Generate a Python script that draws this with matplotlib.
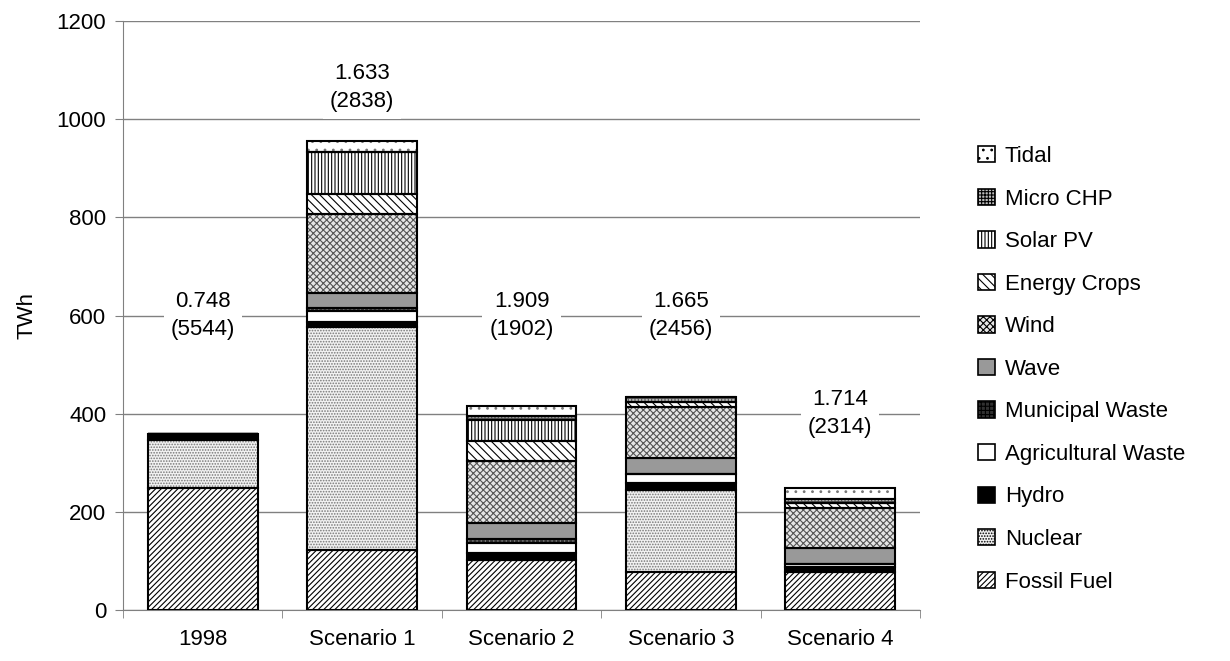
import matplotlib
matplotlib.use("Agg")
import matplotlib.pyplot as plt
import numpy as np
from matplotlib.patches import Patch

plt.rcParams['font.family'] = ['Liberation Sans', 'DejaVu Sans']
plt.rcParams['hatch.linewidth'] = 0.8

categories = ["1998", "Scenario 1", "Scenario 2", "Scenario 3", "Scenario 4"]
sources = ["Fossil Fuel", "Nuclear", "Hydro", "Agricultural Waste", "Municipal Waste",
           "Wave", "Wind", "Energy Crops", "Solar PV", "Micro CHP", "Tidal"]

fossil    = [249, 122, 102, 78, 78]
nuclear   = [98, 455, 0, 166, 0]
hydro     = [12, 10, 14, 14, 10]
agri      = [0, 22, 21, 20, 6]
municipal = [0, 7, 7, 0, 0]
wave      = [0, 30, 34, 32, 32]
wind      = [0, 161, 125, 104, 81]
crops     = [0, 40, 41, 10, 10]
solar     = [0, 87, 44, 0, 0]
microchp  = [0, 0, 8, 10, 10]
tidal     = [0, 22, 19, 0, 22]

label_top = ["0.748", "1.633", "1.909", "1.665", "1.714"]
label_bot = ["(5544)", "(2838)", "(1902)", "(2456)", "(2314)"]
label_y = [600, 1065, 600, 600, 400]

series = [fossil, nuclear, hydro, agri, municipal, wave, wind, crops, solar, microchp, tidal]
# face colour, hatch, hatch colour
styles = [
    ("white", "//////", "black"),
    ("#f2f2f2", "......", "#777777"),
    ("black", None, "black"),
    ("white", None, "black"),
    ("#303030", "++++", "#808080"),
    ("#999999", None, "black"),
    ("#e6e6e6", "xxxxx", "#555555"),
    ("white", "\\\\\\\\", "black"),
    ("white", "|||||", "black"),
    ("#bbbbbb", "+++++", "#555555"),
    ("white", "..", "#777777"),
]

fig = plt.figure(figsize=(12.3, 6.61), dpi=100)
ax = fig.add_axes([123/1230, 1 - 610/661, (920-123)/1230, (610-21)/661])

FS = 16
x = np.arange(len(categories))
bottom = np.zeros(len(categories))
handles = []
for name, vals, (fc, hatch, hc) in zip(sources, series, styles):
    vals = np.array(vals, dtype=float)
    ax.bar(x, vals, width=0.69, bottom=bottom, facecolor=fc,
           hatch=hatch, edgecolor=hc, linewidth=0, zorder=3)
    ax.bar(x, vals, width=0.69, bottom=bottom, fill=False,
           edgecolor="black", linewidth=1.5, zorder=4)
    handles.append(Patch(facecolor=fc, hatch=hatch, edgecolor="black", linewidth=1.2))
    bottom += vals

ax.set_ylim(0, 1200)
ax.set_xlim(-0.5, len(categories) - 0.5)
ax.set_yticks(range(0, 1201, 200))
ax.yaxis.grid(True, color="#808080", linewidth=1.0, zorder=0)
ax.set_axisbelow(True)
ax.set_xticks(x)
ax.set_xticklabels(categories, fontsize=FS)
ax.set_xticks(np.arange(-0.5, len(categories), 1.0), minor=True)
ax.tick_params(axis="x", which="major", length=0, pad=14)
ax.tick_params(axis="x", which="minor", length=6, color="#808080", direction="out")
ax.tick_params(axis="y", labelsize=FS, length=6, color="#808080", direction="out", pad=6)
for s in ["top", "right"]:
    ax.spines[s].set_visible(False)
ax.spines["left"].set_color("#808080")
ax.spines["bottom"].set_color("#808080")
ax.set_ylabel("TWh", fontsize=FS, labelpad=14)

for xi, t, b, y in zip(x, label_top, label_bot, label_y):
    ax.text(xi, y, t + "\n" + b, ha="center", va="center", fontsize=FS,
            linespacing=1.45, zorder=5,
            bbox=dict(facecolor="white", edgecolor="none", pad=5))

leg = fig.legend(handles[::-1], sources[::-1], loc="upper left",
                 bbox_to_anchor=(958/1230, 1 - 126/661), frameon=False,
                 fontsize=FS, handlelength=0.75, handleheight=0.75,
                 handletextpad=0.45, labelspacing=0.97)

fig.savefig("out.png", dpi=100)
